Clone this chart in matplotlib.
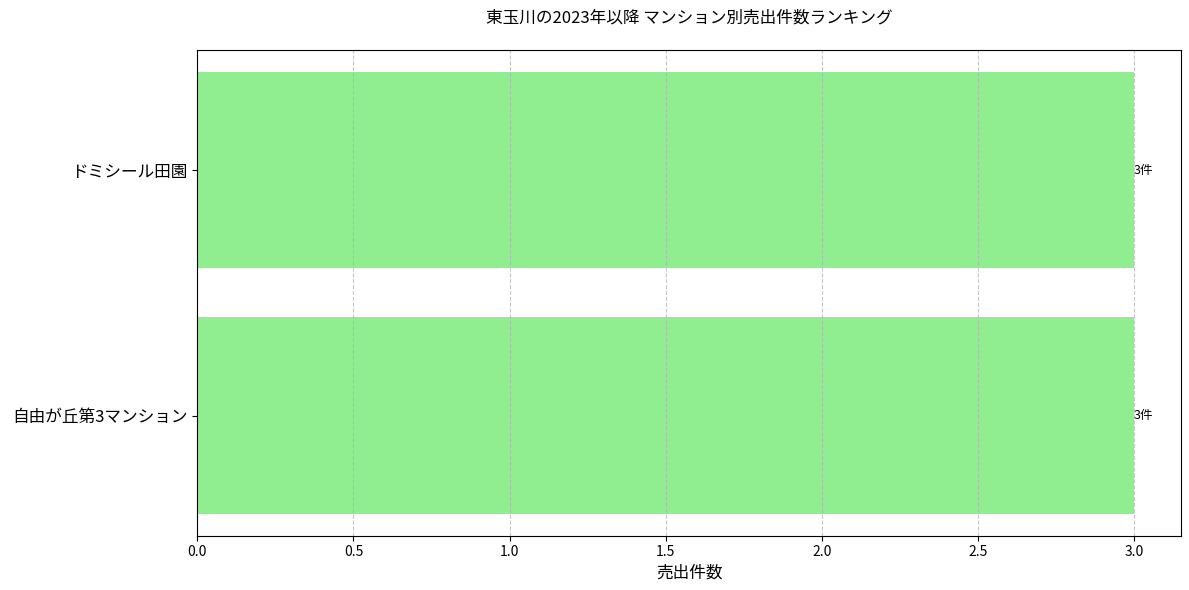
import matplotlib

matplotlib.use("Agg")
import matplotlib.pyplot as plt

plt.rcParams["font.family"] = ["Noto Sans CJK JP", "DejaVu Sans"]

# bottom to top, as barh draws them
mansions = ["自由が丘第3マンション", "ドミシール田園"]
counts = [3, 3]

fig, ax = plt.subplots(figsize=(11.89, 5.9), dpi=100)
bars = ax.barh(mansions, counts, color="lightgreen")

for bar, n in zip(bars, counts):
    ax.text(bar.get_width(), bar.get_y() + bar.get_height() / 2, f"{n}件",
            ha="left", va="center", fontsize=9)

ax.set_title("東玉川の2023年以降 マンション別売出件数ランキング", fontsize=12, pad=20)
ax.set_xlabel("売出件数", fontsize=12)
ax.tick_params(axis="y", labelsize=12)
ax.tick_params(axis="x", labelsize=10)
ax.grid(axis="x", linestyle="--", alpha=0.7)

fig.subplots_adjust(left=0.166, right=0.993, top=0.915, bottom=0.092)
fig.savefig("out.png", dpi=100)
